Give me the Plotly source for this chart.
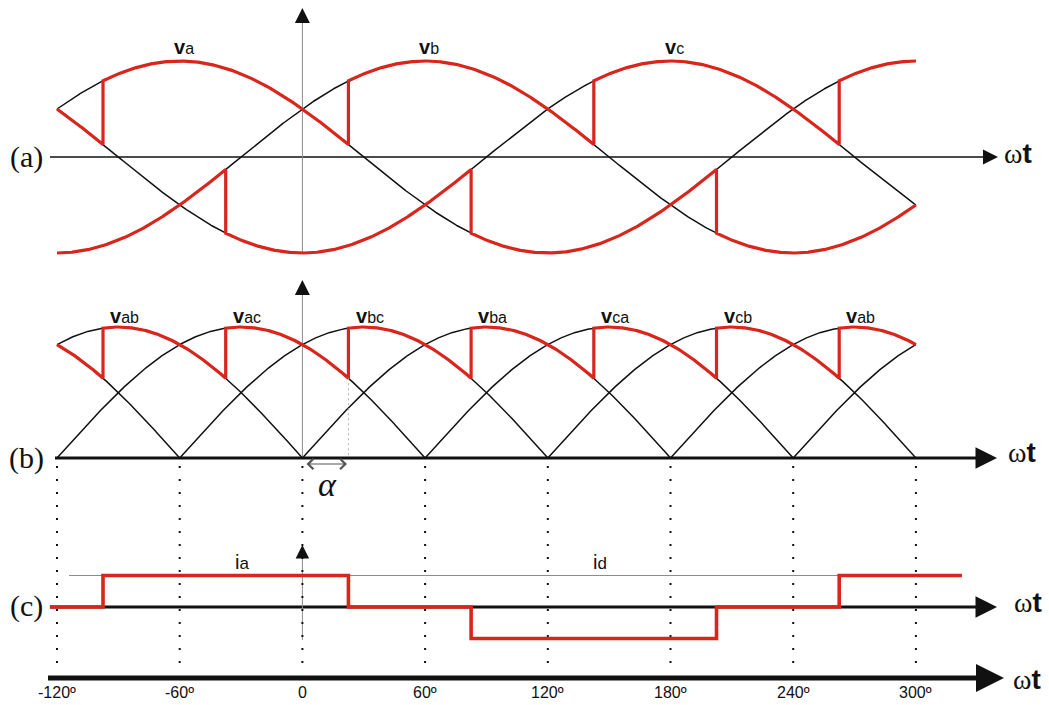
import numpy as np
import plotly.graph_objects as go

# angles (deg) and labels along the common ωt axis
tick_angles = [-120, -60, 0, 60, 120, 180, 240, 300]
tick_labels = ["-120º", "-60º", "0", "60º", "120º", "180º", "240º", "300º"]

# phase voltages: subscript and angle of the positive peak (deg), unit amplitude
phase_names = ["a", "b", "c"]
phase_peaks = [-60, 60, 180]

# line voltages v_xy = v_x - v_y as phase index pairs
line_pairs = [(0, 1), (0, 2), (1, 2), (1, 0), (2, 0), (2, 1)]
line_label_names = ["ab", "ac", "bc", "ba", "ca", "cb", "ab"]
line_label_angles = [-90, -30, 30, 90, 150, 210, 270]

alpha = 22.5               # firing delay (deg)
span = (-120, 300)         # drawn range of the voltage waveforms
ia_span = (-123.5, 322.5)  # drawn range of the line current
id_level = 1.0             # dc current (per unit)

RED = "#d8261c"
BLACK = "#111111"
GREY = "#8c8c8c"

# ---- page geometry -------------------------------------------------------
W, H = 1049, 705
PX_DEG, X0 = 2.045, 302.4     # px per degree, px of 0°
A_A = 96.0                    # panel (a): px per unit phase voltage
A_B = 131.0 / np.sqrt(3)      # panel (b): px per unit (line peak = √3)
A_C = 31.5                    # panel (c): px per unit current
YA, YB, YC = 157, 458, 607    # baselines (px from top)
Y_AXIS = 678                  # common ωt axis (px from top)


def deg(px):
    return (px - X0) / PX_DEG


def yrange(center, ppu):
    return [(center - H) / ppu, center / ppu]


def val(px, center, ppu):
    return (center - px) / ppu


# ---- waveforms -----------------------------------------------------------
def phase(theta, k):
    return np.cos(np.radians(np.asarray(theta, float) - phase_peaks[k]))


def naturals(centres):
    c = np.sort(np.concatenate([np.asarray(centres, float) + 360 * k for k in (-2, -1, 0, 1, 2)]))
    return (c[:-1] + c[1:]) / 2


pos_switch = list(naturals(phase_peaks) + alpha)
neg_switch = list(naturals(np.asarray(phase_peaks) + 180) + alpha)


def conducting(theta, sign):
    vals = [sign * float(phase(theta - alpha, k)) for k in range(3)]
    return int(np.argmax(vals))


def piecewise(lo, hi, switches, fn, step=0.25):
    edges = [lo] + sorted(s for s in set(switches) if lo < s < hi) + [hi]
    xs, ys = [], []
    for s, e in zip(edges[:-1], edges[1:]):
        n = max(2, int(np.ceil((e - s) / step)) + 1)
        t = np.linspace(s, e, n)
        ys.extend(fn(t, 0.5 * (s + e)))
        xs.extend(t)
    return xs, ys


theta = np.linspace(span[0], span[1], int((span[1] - span[0]) / 0.25) + 1)

fig = go.Figure()

# panel (a): phase voltages
for k in range(3):
    fig.add_trace(go.Scatter(x=theta, y=phase(theta, k), mode="lines",
                             line=dict(color=BLACK, width=1.5), yaxis="y", hoverinfo="skip"))
for sign in (+1, -1):
    sw = pos_switch if sign > 0 else neg_switch
    xs, ys = piecewise(span[0], span[1], sw, lambda t, m, s=sign: phase(t, conducting(m, s)))
    fig.add_trace(go.Scatter(x=xs, y=ys, mode="lines",
                             line=dict(color=RED, width=3.2), yaxis="y", hoverinfo="skip"))

# panel (b): rectified line voltages and output voltage
for (p, q) in line_pairs:
    v = phase(theta, p) - phase(theta, q)
    v = np.where(v < -1e-9, np.nan, v)
    fig.add_trace(go.Scatter(x=theta, y=v, mode="lines",
                             line=dict(color=BLACK, width=1.5), yaxis="y2", hoverinfo="skip"))
xs, ys = piecewise(span[0], span[1], pos_switch + neg_switch,
                   lambda t, m: phase(t, conducting(m, 1)) - phase(t, conducting(m, -1)))
fig.add_trace(go.Scatter(x=xs, y=ys, mode="lines",
                         line=dict(color=RED, width=3.2), yaxis="y2", hoverinfo="skip"))

# α marker line
v_before = float(phase(alpha, conducting(alpha - 0.1, 1)) - phase(alpha, conducting(alpha - 0.1, -1)))
fig.add_trace(go.Scatter(x=[alpha, alpha], y=[v_before, 0], mode="lines",
                         line=dict(color="#b0b0b0", width=1, dash="2px,3px"),
                         yaxis="y2", hoverinfo="skip"))

# dotted guides at each tick angle
gx, gy = [], []
for a in tick_angles:
    gx += [a, a, None]
    gy += [val(466, YC, A_C), val(668, YC, A_C), None]
fig.add_trace(go.Scatter(x=gx, y=gy, mode="lines",
                         line=dict(color=BLACK, width=2, dash="2px,11px"),
                         yaxis="y3", hoverinfo="skip"))

# panel (c): line current ia
xs, ys = piecewise(ia_span[0], ia_span[1], pos_switch + neg_switch,
                   lambda t, m: np.full_like(t, id_level * ((conducting(m, 1) == 0) - (conducting(m, -1) == 0))))

shapes = []


def hline(x0, x1, y, yref, color, width):
    shapes.append(dict(type="line", xref="x", yref=yref, x0=x0, x1=x1, y0=y, y1=y,
                       line=dict(color=color, width=width), layer="below"))


def vline(x, y0, y1, yref, color, width):
    shapes.append(dict(type="line", xref="x", yref=yref, x0=x, x1=x, y0=y0, y1=y1,
                       line=dict(color=color, width=width), layer="below"))


# axes lines
hline(deg(50), deg(990), 0, "y", BLACK, 1.5)
vline(0, val(252, YA, A_A), val(18, YA, A_A), "y", GREY, 1)
hline(deg(55), deg(985), 0, "y2", BLACK, 3)
vline(0, 0, val(290, YB, A_B), "y2", GREY, 1)
hline(deg(50), deg(985), 0, "y3", BLACK, 3)
vline(0, val(640, YC, A_C), val(555, YC, A_C), "y3", GREY, 1)
hline(deg(69), ia_span[1], id_level, "y3", GREY, 1)
hline(deg(48), deg(990), val(Y_AXIS, YC, A_C), "y3", BLACK, 5)

fig.add_trace(go.Scatter(x=xs, y=ys, mode="lines",
                         line=dict(color=RED, width=3.6), yaxis="y3", hoverinfo="skip"))

annotations = []


def head(x, y, yref, dx, dy, size, style=2):
    annotations.append(dict(x=x, y=y, xref="x", yref=yref, ax=dx, ay=dy, text="",
                            showarrow=True, arrowhead=style, arrowwidth=1, arrowsize=size,
                            arrowcolor=BLACK, standoff=0))


head(deg(998), 0, "y", -6, 0, 3.0)
head(0, val(8, YA, A_A), "y", 0, 6, 3.0)
head(deg(997), 0, "y2", -8, 0, 4.3)
head(0, val(280, YB, A_B), "y2", 0, 6, 3.0)
head(deg(997), 0, "y3", -8, 0, 4.3)
head(0, val(545, YC, A_C), "y3", 0, 6, 2.7)
head(deg(1004), val(Y_AXIS, YC, A_C), "y3", -10, 0, 5.6)

# α span: double-headed arrow between the natural commutation and firing instants
annotations.append(dict(x=deg(347), y=val(464, YB, A_B), xref="x", yref="y2",
                        ax=deg(305), ay=val(464, YB, A_B), axref="x", ayref="y2",
                        text="", showarrow=True, arrowside="end+start",
                        arrowhead=4, startarrowhead=4, arrowwidth=1.2,
                        arrowsize=1.7, startarrowsize=1.7, arrowcolor="#555555",
                        standoff=0, startstandoff=0))


def text(x, y, yref, s, size, family="Liberation Sans"):
    annotations.append(dict(x=x, y=y, xref="x", yref=yref, text=s, showarrow=False,
                            xanchor="center", yanchor="middle",
                            font=dict(size=size, family=family, color=BLACK)))


def vlabel(sub):
    return ('<span style="font-size:20px"><b>v</b></span>'
            '<span style="font-size:16px">' + sub + '</span>')


for name, pk in zip(phase_names, phase_peaks):
    text(pk + 2, val(47, YA, A_A), "y", vlabel(name), 18)
for name, pk in zip(line_label_names, line_label_angles):
    text(pk + 3, val(316, YB, A_B), "y2", vlabel(name), 18)
text(deg(242), val(562, YC, A_C), "y3",
     '<span style="font-size:20px">i</span><span style="font-size:17px">a</span>', 18)
text(deg(600), val(562, YC, A_C), "y3",
     '<span style="font-size:20px">i</span><span style="font-size:17px">d</span>', 18)

for lab, yref, ypx, cen, ppu in (("(a)", "y", 157, YA, A_A), ("(b)", "y2", 458, YB, A_B),
                                 ("(c)", "y3", 606, YC, A_C)):
    text(deg(26), val(ypx, cen, ppu), yref, lab, 30, family="Liberation Serif")

wt = ('<span style="font-family:Liberation Serif">ω</span>'
      '<span style="font-family:Liberation Sans"><b>t</b></span>')
text(deg(1018), val(153, YA, A_A), "y", wt, 28)
text(deg(1022), val(452, YB, A_B), "y2", wt, 28)
text(deg(1028), val(602, YC, A_C), "y3", wt, 28)
text(deg(1027), val(679, YC, A_C), "y3", wt, 28)
text(deg(327), val(484, YB, A_B), "y2", "<i>α</i>", 34, family="Liberation Serif")

# degree labels under the common axis
for a, lab in zip(tick_angles, tick_labels):
    text(a, val(692, YC, A_C), "y3", lab, 16)

fig.update_layout(
    width=W, height=H,
    margin=dict(l=0, r=0, t=0, b=0),
    paper_bgcolor="white", plot_bgcolor="white",
    showlegend=False,
    shapes=shapes, annotations=annotations,
    xaxis=dict(range=[deg(0), deg(W)], visible=False, fixedrange=True),
    yaxis=dict(range=yrange(YA, A_A), visible=False, fixedrange=True),
    yaxis2=dict(range=yrange(YB, A_B), visible=False, overlaying="y", fixedrange=True),
    yaxis3=dict(range=yrange(YC, A_C), visible=False, overlaying="y", fixedrange=True),
)

fig.write_html("out.html")
